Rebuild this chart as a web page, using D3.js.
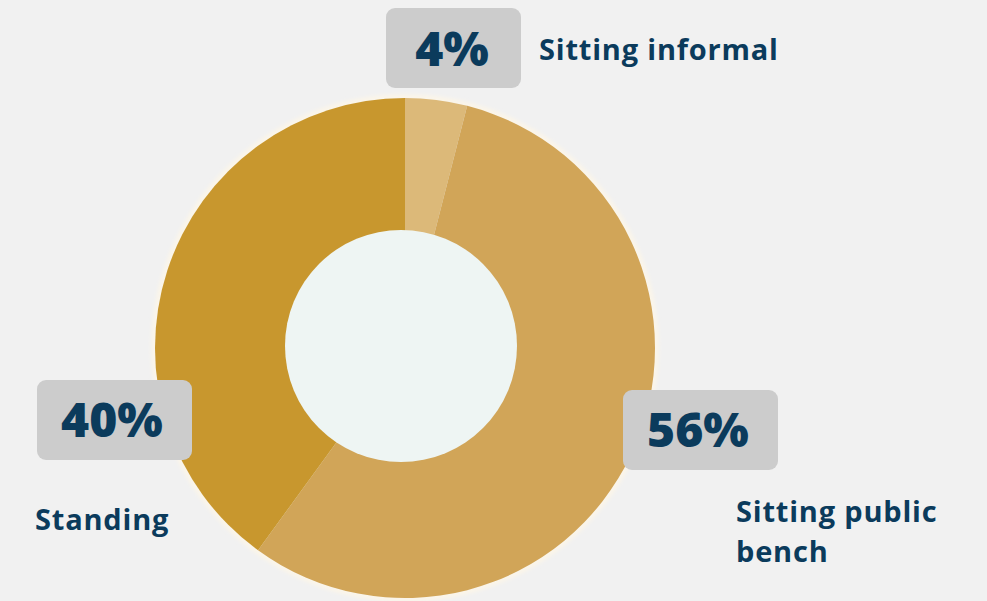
<!DOCTYPE html>
<html>
<head>
<meta charset="utf-8">
<script src="https://cdn.jsdelivr.net/npm/d3@7/dist/d3.min.js"></script>
<style>
  html, body { margin: 0; padding: 0; background: #f1f1f1; }
  svg { display: block; }
</style>
</head>
<body>
<svg id="chart" width="987" height="601"></svg>
<script>
// Share of people by position
const categories = ["Sitting informal", "Sitting public bench", "Standing"];
const values = [4, 56, 40];
const valueLabels = ["4%", "56%", "40%"];
const colors = ["#dcb979", "#d1a558", "#c8972e"];

const svg = d3.select("#chart");
const cx = 405, cy = 348, outerR = 250;

const pie = d3.pie().sort(null).value(d => d.value);
const arcs = pie(categories.map((c, i) => ({ name: c, value: values[i], color: colors[i] })));
const arc = d3.arc().innerRadius(0).outerRadius(outerR);

const defs = svg.append("defs");
defs.append("filter").attr("id", "soft")
  .append("feGaussianBlur").attr("stdDeviation", 2);

const g = svg.append("g").attr("transform", `translate(${cx},${cy})`);

// faint light rim around the ring
g.append("circle")
  .attr("r", outerR + 1)
  .attr("fill", "none")
  .attr("stroke", "#fff7e6")
  .attr("stroke-width", 4)
  .attr("filter", "url(#soft)");

g.selectAll("path.slice")
  .data(arcs)
  .join("path")
  .attr("class", "slice")
  .attr("d", arc)
  .attr("fill", d => d.data.color);

// hole in the middle
svg.append("circle")
  .attr("cx", 401).attr("cy", 346).attr("r", 116)
  .attr("fill", "#eef5f3");

// value boxes and category labels
const labelLayout = [
  { box: [386, 8, 135, 80], valueX: 452, valueY: 66, lines: ["Sitting informal"], textX: 539, textY: 60 },
  { box: [623, 390, 155, 80], valueX: 698, valueY: 447, lines: ["Sitting public", "bench"], textX: 736, textY: 522 },
  { box: [37, 380, 155, 80], valueX: 112, valueY: 437, lines: ["Standing"], textX: 35, textY: 530 }
];

const font = "'Open Sans', sans-serif";
const navy = "#0b3b5c";

arcs.forEach((a, i) => {
  const L = labelLayout[i];
  svg.append("rect")
    .attr("x", L.box[0]).attr("y", L.box[1])
    .attr("width", L.box[2]).attr("height", L.box[3])
    .attr("rx", 9).attr("ry", 9)
    .attr("fill", "#cccccc");
  svg.append("text")
    .attr("x", L.valueX).attr("y", L.valueY)
    .attr("text-anchor", "middle")
    .attr("font-family", font)
    .attr("font-weight", 800)
    .attr("font-size", 48)
    .attr("fill", navy)
    .text(valueLabels[i]);
  const t = svg.append("text")
    .attr("font-family", font)
    .attr("font-weight", 700)
    .attr("font-size", 29)
    .attr("letter-spacing", 0.8)
    .attr("fill", navy);
  L.lines.forEach((line, j) => {
    t.append("tspan").attr("x", L.textX).attr("y", L.textY + j * 40).text(line);
  });
});
</script>
</body>
</html>
